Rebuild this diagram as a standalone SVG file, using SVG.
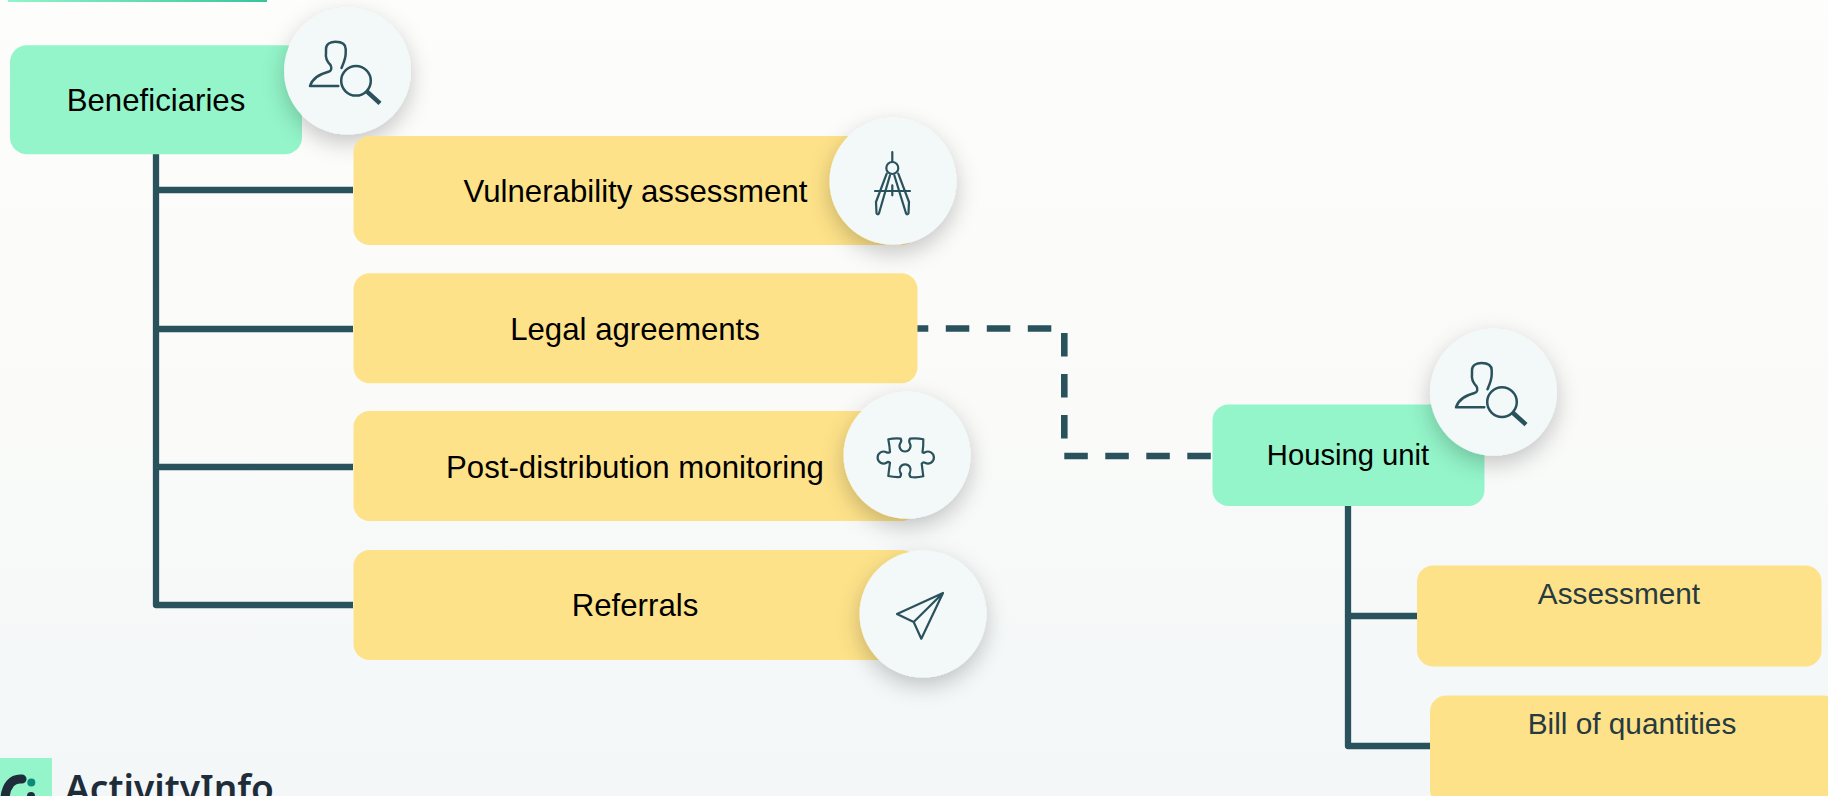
<svg xmlns="http://www.w3.org/2000/svg" width="1828" height="796" viewBox="0 0 1828 796">
<style>
.lbl{font-family:"Liberation Sans",Arial,sans-serif;font-size:31.2px;fill:#000;text-anchor:middle}
.lbl2{font-family:"Liberation Sans",Arial,sans-serif;font-size:29.8px;fill:#263a3f;text-anchor:middle}
.g{fill:#93f5c9}
.y{fill:#fee289}
.c{fill:#f3f8f9;filter:url(#sh)}
.i{fill:none;stroke:#2a525c;stroke-width:2.2;stroke-linejoin:round;stroke-linecap:round}
.ln{fill:none;stroke:#2a525c;stroke-width:6.3;stroke-linejoin:round}
</style>
<defs>
<linearGradient id="bg" x1="0" y1="0" x2="0" y2="1"><stop offset="0" stop-color="#fdfdfc"/><stop offset="0.5" stop-color="#fafbf9"/><stop offset="1" stop-color="#f3f7f8"/></linearGradient>
<linearGradient id="bar" x1="0" y1="0" x2="1" y2="0"><stop offset="0" stop-color="#93f5c9"/><stop offset="1" stop-color="#38c49c"/></linearGradient>
<filter id="sh" x="-50%" y="-50%" width="200%" height="200%"><feDropShadow dx="0" dy="8" stdDeviation="11" flood-color="#000" flood-opacity="0.22"/></filter>
<g id="person">
<path class="i" style="stroke-width:2.5" d="M-9.2,15 H-37.500 C-35,7 -28,3 -19,.7 C-16,0 -15.500,-3 -17,-6 C-21,-10 -22,-15 -21.500,-18 L-21.500,-22 C-21.500,-27 -17,-29.300 -12,-29.300 C-6,-29.300 -1.800,-27 -1.800,-22 L-1.800,-18 C-1.800,-12 -4,-8 -6,-3"/>
<circle class="i" style="stroke-width:2.500" cx="8.500" cy="9.800" r="14.800"/>
<path class="i" style="stroke-width:4.500;stroke-linecap:butt" d="M18.500,19.700 L32.500,32.300"/>
</g>
</defs>
<rect width="1828" height="796" fill="url(#bg)"/>
<rect x="8" y="0" width="259" height="2" fill="url(#bar)"/>
<g id="connectors">
<path class="ln" d="M156,154 V605 H353 M156,190 H353 M156,329 H353 M156,467 H353"/>
<path class="ln" d="M1348,506 V746 H1430 M1348,616 H1417"/>
<path class="ln" style="stroke-width:6.6" stroke-dasharray="23.500 17.500" stroke-dashoffset="12.200" d="M917,328.500 H1064.300 V456 H1212"/>
</g>
<g id="beneficiaries">
<rect class="g" x="10" y="45.300" width="292" height="109" rx="17"/>
<text class="lbl" x="156" y="111">Beneficiaries</text>
<circle class="c" cx="347.500" cy="71" r="63.500"/>
<use href="#person" x="347.500" y="71"/>
</g>
<g id="vulnerability">
<rect class="y" x="353.500" y="136" width="564" height="109" rx="16"/>
<text class="lbl" x="635.500" y="202">Vulnerability assessment</text>
<circle class="c" cx="893" cy="181.300" r="63.500"/>
<g transform="translate(893,181.300)"><path class="i" d="M-.7,-29.300 V-19.300 M-18,9.700 H17 M-.7,4 V14 M-6.300,-7.700 L-17,20.700 L-16.500,32 Q-15,34 -14,32 L-3,-6 M5.300,-7.700 L16,20.700 L15.500,32 Q14,34 13,32 L1.300,-6"/><circle class="i" cx="-.7" cy="-13.300" r="6"/></g>
</g>
<g id="legal">
<rect class="y" x="353.500" y="273.300" width="564" height="110" rx="16"/>
<text class="lbl" x="635" y="340">Legal agreements</text>
</g>
<g id="monitoring">
<rect class="y" x="353.500" y="411" width="564" height="110" rx="16"/>
<text class="lbl" x="635" y="478">Post-distribution monitoring</text>
<circle class="c" cx="907" cy="455.300" r="63.500"/>
<g transform="translate(907,455.300)"><path class="i" d="M-18.700,-16 Q-12,-17.500 -6.300,-16.700 Q-5,-14 -6.800,-12 A5.500,5.500 0 1 0 2.800,-12 Q1.500,-14 3,-16.700 Q10,-17.500 16.300,-16 Q16.500,-9 15.500,-3 Q17,-2 18,-3 A6,6 0 1 1 18,7.500 Q16,6.500 14.700,8.300 Q15.500,15 16.300,21 Q10,22.500 3.700,21.700 Q1.500,19 3,17 A5.500,5.500 0 1 0 -6.800,17 Q-5,19 -7,21.700 Q-13,22 -18.700,20.700 Q-18,14 -17,7.300 Q-19,6 -20.500,7.500 A6,6 0 1 1 -20.500,-3 Q-19,-2 -17,-3.300 Q-17.500,-10 -18.700,-16 Z"/></g>
</g>
<g id="referrals">
<rect class="y" x="353.500" y="550" width="564" height="110" rx="16"/>
<text class="lbl" x="635" y="616">Referrals</text>
<circle class="c" cx="923" cy="614" r="63.500"/>
<g transform="translate(923,614)"><path class="i" d="M20,-21 L-26,0 L-9.300,8 L-1.700,24.700 Z M20,-21 L-9.300,8"/></g>
</g>
<g id="housing">
<rect class="g" x="1212.500" y="404.500" width="272" height="101.500" rx="16"/>
<text class="lbl2" x="1348" y="465" style="fill:#000;font-size:29.200px">Housing unit</text>
<circle class="c" cx="1493.500" cy="392.300" r="63.500"/>
<use href="#person" x="1493.500" y="392.300"/>
</g>
<g id="assessment">
<rect class="y" x="1417" y="565.500" width="404.500" height="101" rx="16"/>
<text class="lbl2" x="1619" y="604">Assessment</text>
</g>
<g id="boq">
<rect class="y" x="1430" y="695.500" width="410" height="110" rx="16"/>
<text class="lbl2" x="1632" y="734">Bill of quantities</text>
</g>
<g id="logo">
<rect x="0" y="758" width="52" height="38" fill="#93f5c9"/>
<path d="M22,779 C12,778 6,786 5,798" fill="none" stroke="#1f2d3a" stroke-width="9" stroke-linecap="round"/>
<circle cx="31.300" cy="782.500" r="4" fill="#0d8a78"/>
<circle cx="31" cy="796" r="4" fill="#1f2d3a"/>
<text x="65" y="802" style="font-family:'Noto Sans',sans-serif;font-weight:600;font-size:37px;fill:#1f2d3a">ActivityInfo</text>
</g>
</svg>
